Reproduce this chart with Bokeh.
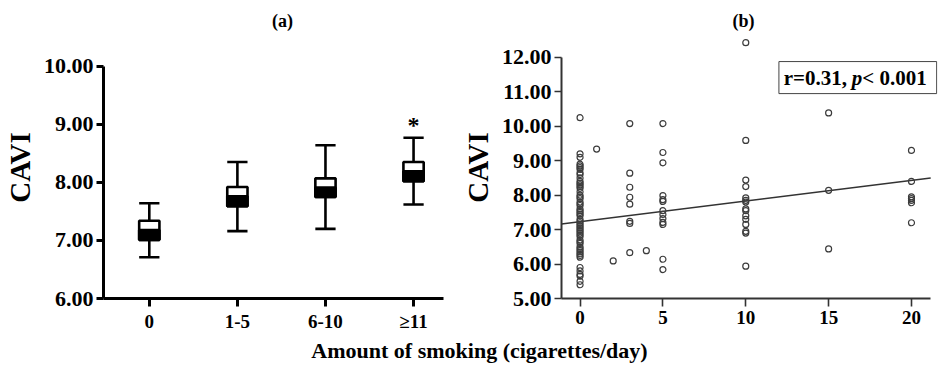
from bokeh.plotting import figure
from bokeh.models import Range1d, FixedTicker, NumeralTickFormatter, Label
from bokeh.layouts import row, column
from bokeh.embed import file_html
from bokeh.resources import INLINE
from bokeh.core.properties import value

# ---------------- data ----------------
# panel (a) box plot
categories = ["0", "1-5", "6-10", "≥11"]
whisker_low = [6.71, 7.16, 7.20, 7.62]
q1 = [7.01, 7.59, 7.75, 8.02]
median = [7.18, 7.76, 7.91, 8.19]
q3 = [7.34, 7.92, 8.07, 8.35]
whisker_high = [7.64, 8.35, 8.64, 8.77]
star_value = 8.99

# panel (b) scatter
cig_0 = [10.25, 9.20, 9.10, 8.90, 8.85, 8.80, 8.75, 8.65, 8.60, 8.50, 8.40, 8.35,
         8.30, 8.25, 8.20, 8.10, 8.00, 7.95, 7.90, 7.80, 7.75, 7.70, 7.60, 7.55,
         7.50, 7.45, 7.40, 7.30, 7.25, 7.20, 7.15, 7.10, 7.05, 7.00, 6.95, 6.90,
         6.85, 6.80, 6.70, 6.65, 6.60, 6.50, 6.45, 6.40, 6.35, 6.30, 6.25, 6.20,
         5.90, 5.80, 5.70, 5.65, 5.50, 5.40]
cig_1 = [9.34]
cig_2 = [6.09]
cig_3 = [10.08, 8.64, 8.23, 7.94, 7.74, 7.24, 7.18, 6.33]
cig_4 = [6.39]
cig_5 = [10.08, 9.24, 8.94, 7.99, 7.87, 7.82, 7.55, 7.44, 7.32, 7.21, 7.15, 6.14, 5.84]
cig_10 = [12.43, 9.59, 8.44, 8.25, 7.92, 7.85, 7.80, 7.60, 7.55, 7.40, 7.30, 7.15,
          6.95, 6.90, 5.94]
cig_15 = [10.39, 8.14, 6.44]
cig_20 = [9.30, 8.40, 7.95, 7.90, 7.85, 7.78, 7.20]
scatter_groups = {0: cig_0, 1: cig_1, 2: cig_2, 3: cig_3, 4: cig_4, 5: cig_5,
                  10: cig_10, 15: cig_15, 20: cig_20}
fit_intercept = 7.23
fit_slope = 0.060
annotation_parts = ["r=0.31, ", "p", "< 0.001"]

x_ticks_b = [0, 5, 10, 15, 20]
y_ticks_a = [6, 7, 8, 9, 10]
y_ticks_b = [5, 6, 7, 8, 9, 10, 11, 12]

FONT = "Liberation Serif"
BLACK = "black"

# ---------------- header with panel titles ----------------
p0 = figure(width=938, height=36, output_backend="svg", toolbar_location=None,
            x_range=Range1d(0, 938), y_range=Range1d(0, 36), min_border=0)
p0.axis.visible = False
p0.grid.visible = False
p0.outline_line_color = None
for tx, xp in (("(a)", 282), ("(b)", 743)):
    p0.add_layout(Label(x=xp, y=16, text=tx, text_font=FONT, text_font_style="bold",
                        text_font_size="18px", text_color=BLACK,
                        text_align="center", text_baseline="middle"))

# ---------------- panel (a) ----------------
p1 = figure(width=458, height=298, output_backend="svg", toolbar_location=None,
            x_range=Range1d(-0.52, 3.34), y_range=Range1d(6, 10.513),
            min_border_left=102, min_border_right=15, min_border_top=0,
            min_border_bottom=34)
p1.outline_line_color = None
p1.grid.visible = False

xs = list(range(len(categories)))
hw = 0.115
LW = 2.6
p1.segment(x0=xs, y0=q3, x1=xs, y1=whisker_high, line_color=BLACK, line_width=LW)
p1.segment(x0=xs, y0=whisker_low, x1=xs, y1=q1, line_color=BLACK, line_width=LW)
p1.segment(x0=[x - hw for x in xs], y0=whisker_high, x1=[x + hw for x in xs],
           y1=whisker_high, line_color=BLACK, line_width=LW)
p1.segment(x0=[x - hw for x in xs], y0=whisker_low, x1=[x + hw for x in xs],
           y1=whisker_low, line_color=BLACK, line_width=LW)
p1.quad(left=[x - hw for x in xs], right=[x + hw for x in xs], bottom=q1, top=q3,
        fill_color="white", line_color=BLACK, line_width=LW)
p1.quad(left=[x - hw for x in xs], right=[x + hw for x in xs], bottom=q1, top=median,
        fill_color=BLACK, line_color=BLACK, line_width=LW)

p1.text(x=[3], y=[star_value], text=["*"], text_font=value(FONT),
        text_font_style="bold", text_font_size="24px", text_align="center",
        text_baseline="middle", text_color=BLACK)

for ax in (p1.xaxis[0], p1.yaxis[0]):
    ax.axis_line_width = 3
    ax.axis_line_color = BLACK
    ax.major_tick_line_width = 3
    ax.major_tick_line_color = BLACK
    ax.major_tick_in = 0
    ax.minor_tick_line_color = None
    ax.major_label_text_font = FONT
    ax.major_label_text_font_style = "bold"
    ax.major_label_text_color = BLACK

p1.yaxis.bounds = (6, 10)
p1.yaxis.ticker = FixedTicker(ticks=y_ticks_a)
p1.yaxis.formatter = NumeralTickFormatter(format="0.00")
p1.yaxis.major_tick_out = 7
p1.yaxis.major_label_standoff = 3
p1.yaxis.major_label_text_font_size = "22px"
p1.yaxis.axis_label = "CAVI"
p1.yaxis.axis_label_text_font = FONT
p1.yaxis.axis_label_text_font_style = "bold"
p1.yaxis.axis_label_text_font_size = "29px"
p1.yaxis.axis_label_text_color = BLACK
p1.yaxis.axis_label_standoff = 5

p1.xaxis.ticker = FixedTicker(ticks=xs)
p1.xaxis.major_label_overrides = {i: c for i, c in zip(xs, categories)}
p1.xaxis.major_tick_out = 8
p1.xaxis.major_label_standoff = 4
p1.xaxis.major_label_text_font_size = "19px"

# ---------------- panel (b) ----------------
p2 = figure(width=480, height=298, output_backend="svg", toolbar_location=None,
            x_range=Range1d(-1.12, 21.57), y_range=Range1d(5, 12.608),
            min_border_left=100, min_border_right=1, min_border_top=0,
            min_border_bottom=34)
p2.outline_line_color = None
p2.grid.visible = False

GREY = "#333333"
fit_x = [-1.12, 21.16]
fit_y = [fit_intercept + fit_slope * x for x in fit_x]
p2.line(fit_x, fit_y, line_color=GREY, line_width=1.4)

sx, sy = [], []
for k, vals in scatter_groups.items():
    sx += [k] * len(vals)
    sy += vals
p2.scatter(sx, sy, size=6, marker="circle", fill_color=None,
           line_color="#3c3c3c", line_width=1.2)

# annotation box
p2.quad(left=[12.0], right=[21.52], bottom=[10.95], top=[11.88],
        fill_color="white", line_color="#444444", line_width=1)
px_unit = 16.7
start_px = 782 - 576.7
w0 = 3.264 * 21
w1 = 0.5 * 21
pos = [start_px / px_unit, (start_px + w0) / px_unit, (start_px + w0 + w1) / px_unit]
styles = ["bold", "bold italic", "bold"]
for t, xp, st in zip(annotation_parts, pos, styles):
    p2.text(x=[xp], y=[11.415], text=[t], text_font=value(FONT), text_font_style=st,
            text_font_size="21px", text_align="left", text_baseline="middle",
            text_color=BLACK)

for ax in (p2.xaxis[0], p2.yaxis[0]):
    ax.axis_line_width = 2
    ax.axis_line_color = GREY
    ax.major_tick_line_width = 1.6
    ax.major_tick_line_color = GREY
    ax.major_tick_in = 0
    ax.minor_tick_line_color = None
    ax.major_label_text_font = FONT
    ax.major_label_text_font_style = "bold"
    ax.major_label_text_color = BLACK

p2.xaxis.bounds = (-1.12, 21.16)
p2.yaxis.bounds = (5, 12)
p2.yaxis.ticker = FixedTicker(ticks=y_ticks_b)
p2.yaxis.formatter = NumeralTickFormatter(format="0.00")
p2.yaxis.major_tick_out = 7
p2.yaxis.major_label_standoff = 3
p2.yaxis.major_label_text_font_size = "22px"
p2.yaxis.axis_label = "CAVI"
p2.yaxis.axis_label_text_font = FONT
p2.yaxis.axis_label_text_font_style = "bold"
p2.yaxis.axis_label_text_font_size = "29px"
p2.yaxis.axis_label_text_color = BLACK
p2.yaxis.axis_label_standoff = 5

p2.xaxis.ticker = FixedTicker(ticks=x_ticks_b)
p2.xaxis.major_tick_out = 8
p2.xaxis.major_label_standoff = 4
p2.xaxis.major_label_text_font_size = "19px"

# ---------------- common x title ----------------
p3 = figure(width=938, height=51, output_backend="svg", toolbar_location=None,
            x_range=Range1d(0, 938), y_range=Range1d(0, 51), min_border=0)
p3.axis.visible = False
p3.grid.visible = False
p3.outline_line_color = None
p3.add_layout(Label(x=479, y=35, text="Amount of smoking (cigarettes/day)",
                    text_font=FONT, text_font_style="bold", text_font_size="22px",
                    text_color=BLACK, text_align="center", text_baseline="middle"))

layout = column(p0, row(p1, p2), p3)
open("out.html", "w").write(file_html(layout, INLINE))
